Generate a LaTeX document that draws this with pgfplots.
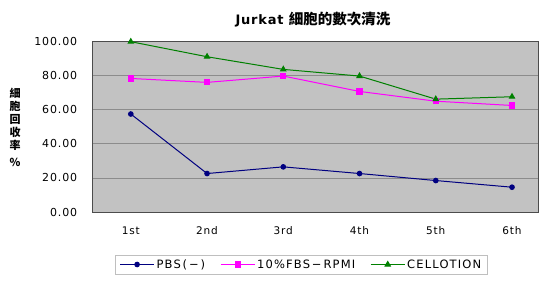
\documentclass[border=0pt]{standalone}
\usepackage{pgfplots}
\pgfplotsset{compat=1.18}
\usepackage{fontspec}
\setmainfont{DejaVu Sans}[LetterSpace=6]
\newfontfamily\tickfont{DejaVu Sans}[LetterSpace=8]
\newfontfamily\legfont{DejaVu Sans}[LetterSpace=10]
\newfontfamily\cjk{Noto Sans CJK TC}
\definecolor{bg}{HTML}{C2C2C2}
\definecolor{gridc}{HTML}{8C8C8C}
\definecolor{pbs}{HTML}{000080}
\definecolor{fbs}{HTML}{FF00FF}
\definecolor{cel}{HTML}{008000}
\begin{document}
\begin{tikzpicture}
\begin{axis}[
  at={(92.7pt,73pt)}, anchor=south west,
  scale only axis, width=446pt, height=171pt,
  xmin=-0.5, xmax=5.35, ymin=0, ymax=100,
  axis background/.style={fill=bg},
  axis line style={draw=gray!60!black, line width=0.8pt},
  xtick={0,1,2,3,4,5}, xticklabels={1st,2nd,3rd,4th,5th,6th},
  ytick={0,20,40,60,80,100},
  major tick length=0pt,
  ymajorgrids, grid style={gridc, line width=0.6pt},
  yticklabel={\pgfmathprintnumber[fixed,fixed zerofill,precision=2]{\tick}},
  /pgf/number format/assume math mode=true,
  yticklabel style={font=\tickfont\fontsize{11}{12}\selectfont, xshift=-12pt},
  xticklabel style={font=\tickfont\fontsize{10.5}{12}\selectfont, yshift=-11pt},
  legend style={at={(0.468,-0.307)}, anchor=center, legend columns=3,
    draw=gray!50, fill=white, font=\legfont\fontsize{11.5}{13}\selectfont,
    inner ysep=2.5pt, inner xsep=4pt,
    /tikz/every even column/.append style={column sep=13pt}},
  legend image code/.code={\draw[mark repeat=2,mark phase=2] plot coordinates {(0pt,0pt) (17pt,0pt) (34pt,0pt)};},
  clip=false,
]
\addplot[pbs, line width=1pt, mark=*, mark size=2.3pt, mark options={fill=pbs}]
  coordinates {(0,57.3) (1,22.5) (2,26.4) (3,22.5) (4,18.4) (5,14.5)};
\addlegendentry{PBS\,(\,−\,)}
\addplot[fbs, line width=1pt, mark=square*, mark size=2.6pt, mark options={fill=fbs}]
  coordinates {(0,78.1) (1,75.8) (2,79.5) (3,70.5) (4,64.8) (5,62.3)};
\addlegendentry{10\%FBS\,−\,RPMI}
\addplot[cel, line width=1pt, mark=triangle*, mark size=3pt, mark options={fill=cel}]
  coordinates {(0,99.6) (1,90.8) (2,83.4) (3,79.5) (4,66.0) (5,67.4)};
\addlegendentry{CELLOTION}
\end{axis}
\node at (313pt,265pt) {\bfseries\fontsize{13}{15}\selectfont Jurkat \cjk\fontsize{14.5}{15}\selectfont 細胞的數次清洗};
\node[align=center, font=\cjk\bfseries\fontsize{11}{13}\selectfont] at (15pt,158pt) {細\\胞\\回\\收\\率\\[4pt]\%};
\pgfresetboundingbox
\path (0,0) rectangle (539pt,285pt);
\end{tikzpicture}
\end{document}
